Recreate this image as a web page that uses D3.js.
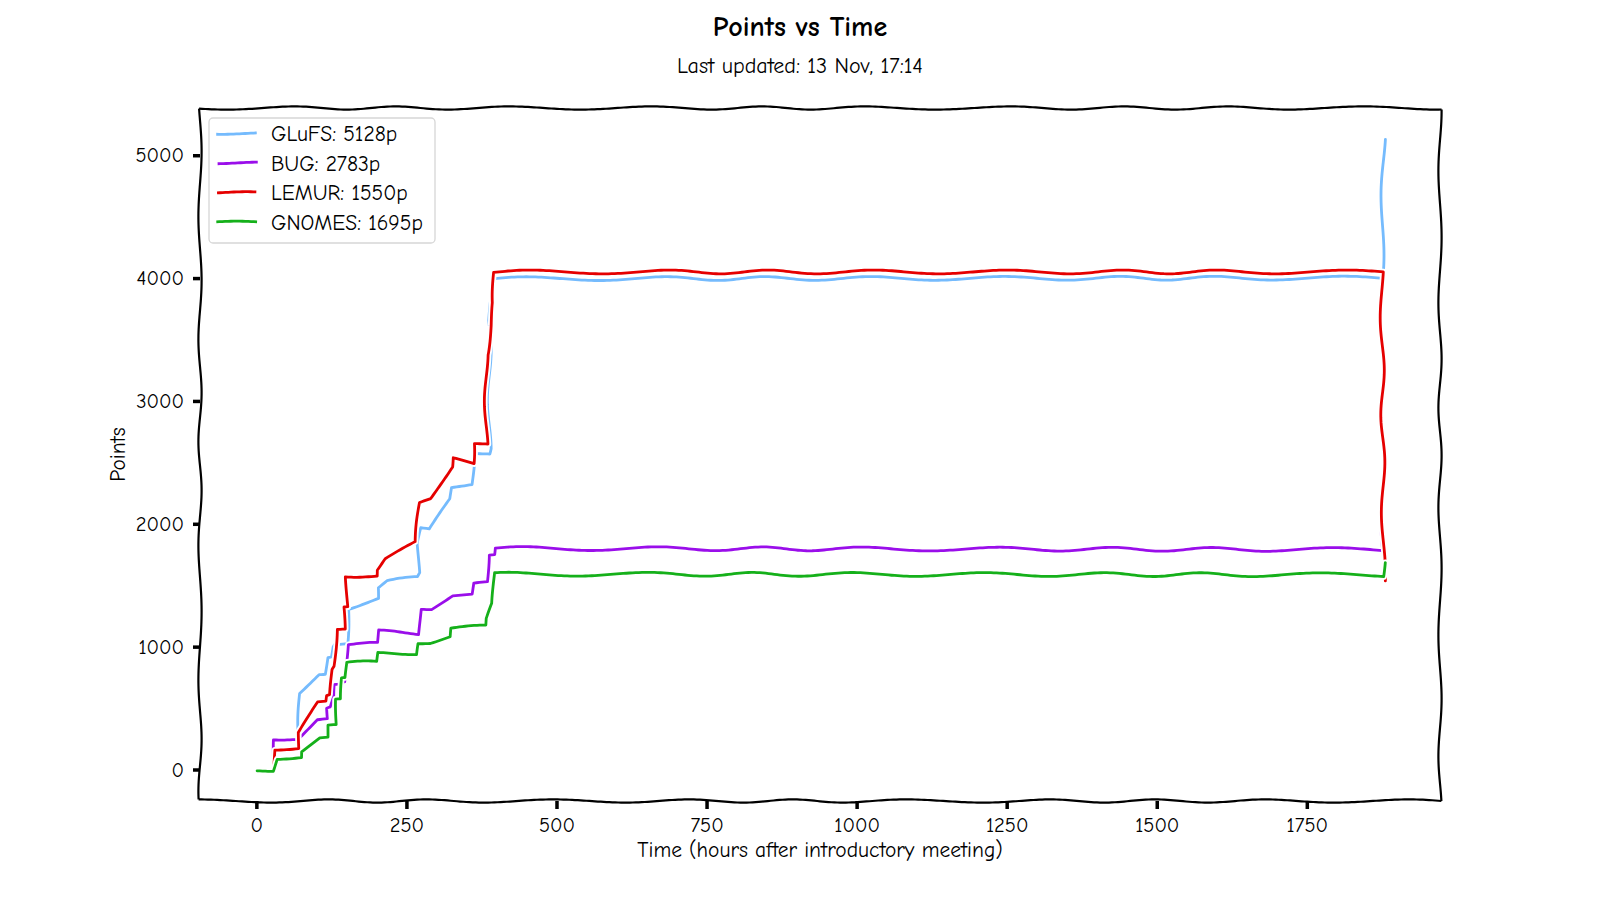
<!DOCTYPE html>
<html>
<head>
<meta charset="utf-8">
<script src="https://cdn.jsdelivr.net/npm/d3@7"></script>
<style>
  html, body { margin: 0; padding: 0; background: #fff; }
  svg { display: block; }
  text { font-family: "Comic Sans MS", "Comic Neue", "Humor Sans", "Open Sans", sans-serif; fill: #000; }
</style>
</head>
<body>
<svg id="chart" width="1600" height="900"></svg>
<script>
// ---------- data (hours after introductory meeting, points) ----------
const seriesNames = ["GLuFS", "BUG", "LEMUR", "GNOMES"];
const seriesColors = ["#75bbfd", "#9a0eea", "#e50000", "#15b01a"];

const glufsData = [[0,0],[26,0],[31,172],[71,175],[73,632],[104,787],[115,787],[117,925],[123,930],[125,1012],[127,1030],[150,1030],[152,1316],[201,1384],[202,1473],[217,1527],[266,1563],[270,1596],[270,1826],[277,1953],[291,1948],[324,2200],[325,2287],[360,2328],[361,2570],[386,2578],[388,2620],[388,3645],[392,3767],[398,3995],[1875,4000],[1878,5128]];
const bugData = [[0,0],[26,0],[31,253],[71,258],[104,408],[120,408],[120,497],[126,505],[132,591],[132,692],[139,692],[150,705],[151,890],[151,1020],[202,1020],[202,1120],[272,1112],[273,1311],[291,1316],[326,1427],[360,1425],[361,1519],[385,1519],[385,1745],[394,1745],[395,1799],[1875,1790],[1878,2783]];
const lemurData = [[0,0],[26,0],[32,172],[70,180],[72,315],[105,559],[119,559],[120,605],[125,610],[126,823],[129,850],[132,1156],[145,1156],[145,1338],[151,1340],[151,1582],[202,1574],[203,1622],[217,1712],[267,1840],[272,2159],[291,2190],[324,2450],[325,2523],[360,2491],[361,2648],[383,2655],[383,3358],[391,3602],[396,3792],[396,4050],[1875,4050],[1878,1550]];
const gnomesData = [[0,0],[26,0],[34,98],[73,103],[74,150],[105,253],[118,253],[120,353],[133,353],[135,565],[143,565],[144,741],[150,741],[151,870],[203,868],[204,939],[270,950],[272,1039],[293,1039],[326,1080],[327,1153],[385,1161],[386,1215],[395,1337],[396,1590],[1875,1585],[1878,1695]];
const allData = [glufsData, bugData, lemurData, gnomesData];

const xTicks = [0, 250, 500, 750, 1000, 1250, 1500, 1750];
const yTicks = [0, 1000, 2000, 3000, 4000, 5000];

const titleText = "Points vs Time";
const subtitleText = "Last updated: 13 Nov, 17:14";
const xLabelText = "Time (hours after introductory meeting)";
const yLabelText = "Points";

// ---------- layout ----------
const plotL = 200, plotR = 1440, plotT = 108, plotB = 801;
const svg = d3.select("#chart");

function padded(ext) { const r = ext[1] - ext[0]; return [ext[0] - 0.05 * r, ext[1] + 0.05 * r]; }
const xExt = d3.extent(allData.flat(), d => d[0]);
const yExt = d3.extent(allData.flat(), d => d[1]);
const x = d3.scaleLinear().domain(padded(xExt)).range([plotL, plotR]);
const y = d3.scaleLinear().domain(padded(yExt)).range([plotB, plotT]);

// ---------- xkcd-like sketch: deterministic wobble as a function of position ----------
function sketch(pts, amp = 2.0, wl = 115) {
  const out = [];
  for (let i = 0; i < pts.length - 1; i++) {
    const [x0, y0] = pts[i], [x1, y1] = pts[i + 1];
    const dx = x1 - x0, dy = y1 - y0, L = Math.hypot(dx, dy);
    if (L < 1e-6) continue;
    const n = Math.max(1, Math.ceil(L / 3));
    for (let k = (out.length ? 1 : 0); k <= n; k++) {
      const t = k / n;
      const px = x0 + dx * t, py = y0 + dy * t;
      const ox = amp * Math.sin(2 * Math.PI * py / (wl * 0.95) + px / 37 + 0.6 * Math.sin(py / 67));
      const oy = amp * Math.sin(2 * Math.PI * px / wl + py / 41 + 0.7 * Math.sin(px / 61));
      out.push([px + ox, py + oy]);
    }
  }
  return out;
}
const lineGen = d3.line();
const FONT = '"Comic Sans MS", "Comic Neue", "Humor Sans", "Open Sans", sans-serif';

// ---------- axes ticks & labels ----------
const xAxis = d3.axisBottom(x).tickValues(xTicks).tickSize(8).tickPadding(8).tickFormat(d3.format("d"));
const yAxis = d3.axisLeft(y).tickValues(yTicks).tickSize(7).tickPadding(9).tickFormat(d3.format("d"));

const gx = svg.append("g").attr("transform", `translate(0,${plotB})`).call(xAxis);
const gy = svg.append("g").attr("transform", `translate(${plotL},0)`).call(yAxis);
[gx, gy].forEach(g => {
  g.select(".domain").remove();
  g.selectAll(".tick line").attr("stroke", "#000").attr("stroke-width", 3.5);
  g.selectAll(".tick text").attr("font-size", 20.5).attr("fill", "#000").style("font-family", FONT);
});

// ---------- spines ----------
const spines = [
  [[plotL, plotT], [plotR, plotT]],
  [[plotR, plotT], [plotR, plotB]],
  [[plotL, plotB], [plotR, plotB]],
  [[plotL, plotT], [plotL, plotB]]
];
spines.forEach(s => {
  svg.append("path").attr("d", lineGen(sketch(s, 1.6, 120)))
    .attr("fill", "none").attr("stroke", "#000").attr("stroke-width", 2.2);
});

// ---------- series ----------
const gLines = svg.append("g");
allData.forEach((data, i) => {
  const pts = data.map(d => [x(d[0]), y(d[1])]);
  const path = lineGen(sketch(pts, 1.9, 115));
  gLines.append("path").attr("d", path).attr("fill", "none")
    .attr("stroke", "#fff").attr("stroke-width", 6.5)
    .attr("stroke-linejoin", "round").attr("stroke-linecap", "round");
  gLines.append("path").attr("d", path).attr("fill", "none")
    .attr("stroke", seriesColors[i]).attr("stroke-width", 2.8)
    .attr("stroke-linejoin", "round").attr("stroke-linecap", "round");
});

// ---------- legend ----------
const leg = svg.append("g");
leg.append("rect").attr("x", 209).attr("y", 118).attr("width", 226).attr("height", 125)
  .attr("rx", 4).attr("fill", "#fff").attr("fill-opacity", 0.85)
  .attr("stroke", "#d6d6d6").attr("stroke-width", 1.3);
const rowY = [133.5, 163, 192.5, 222];
seriesNames.forEach((name, i) => {
  const yy = rowY[i];
  leg.append("path").attr("d", lineGen(sketch([[217, yy], [257, yy]], 0.8, 80)))
    .attr("fill", "none").attr("stroke", seriesColors[i]).attr("stroke-width", 2.8);
  const last = allData[i][allData[i].length - 1][1];
  leg.append("text").attr("x", 271).attr("y", yy).attr("dy", "0.35em")
    .attr("font-size", 21.5).text(`${name}: ${last}p`);
});

// ---------- titles ----------
svg.append("text").attr("x", 800).attr("y", 36).attr("text-anchor", "middle")
  .attr("font-size", 28).attr("font-weight", "bold").text(titleText);
svg.append("text").attr("x", 800).attr("y", 73).attr("text-anchor", "middle")
  .attr("font-size", 22).text(subtitleText);
svg.append("text").attr("x", (plotL + plotR) / 2).attr("y", 857).attr("text-anchor", "middle")
  .attr("font-size", 21.5).text(xLabelText);
svg.append("text").attr("transform", `translate(125,${(plotT + plotB) / 2}) rotate(-90)`)
  .attr("text-anchor", "middle").attr("font-size", 21.5).text(yLabelText);
</script>
</body>
</html>
